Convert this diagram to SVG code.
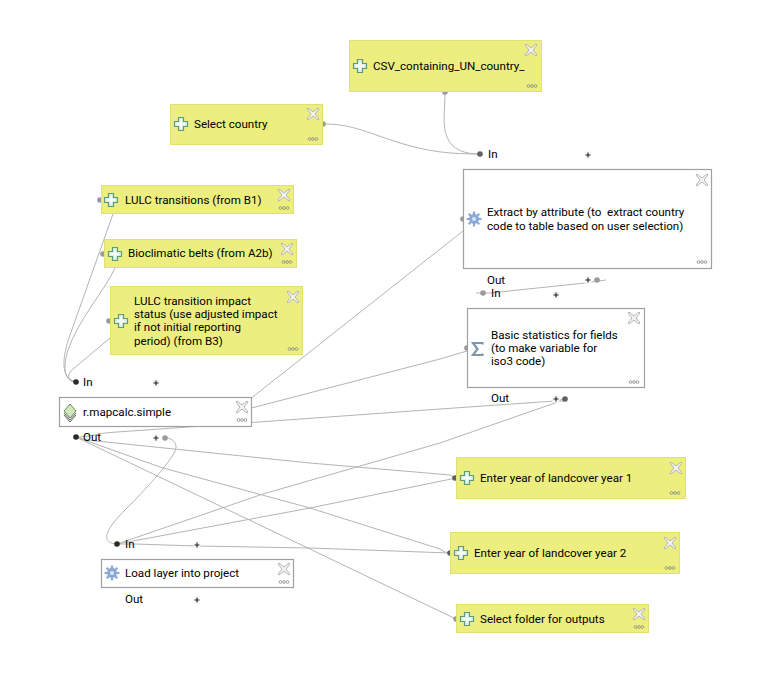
<svg xmlns="http://www.w3.org/2000/svg" width="761" height="698" viewBox="0 0 761 698">
<style>
text{font-family:Roboto,"Noto Sans","DejaVu Sans",sans-serif;font-size:11.6px;fill:#000;white-space:pre}
.in{fill:#ecef80;stroke:#e0e26e;stroke-width:1}
.alg{fill:#fff;stroke:#a0a0a0;stroke-width:1.2}
.c{fill:none;stroke:#b4b4b4;stroke-width:1}
.lg{fill:#9a9a9a}.md{fill:#606060}.dk{fill:#2a2a2a}
</style>
<defs>
<g id="x"><path d="M-5-6-0 -2 5-6 6-5 2 0 6 5 5 6 0 2-5 6-6 5-2 0-6-5Z" fill="#f4f4f0" stroke="#b4b4b4" stroke-width="1"/></g>
<g id="dots" fill="none" stroke="#8a8a8a" stroke-width=".8"><circle cx="-3.500" r="1.400"/><circle r="1.400"/><circle cx="3.500" r="1.400"/></g>
<g id="plus"><rect x="-3.500" y="-3.500" width="7" height="7" fill="#f6f6f6"/><path d="M-2.500 0H2.500M0-2.500V2.500" stroke="#222" stroke-width="1.100"/></g>
<g id="add"><path d="M-2.500-6.500H2.500V-2.500H6.500V2.500H2.500V6.500H-2.500V2.500H-6.500V-2.500H-2.500Z" fill="#dcefe4" stroke="#5e9b78" stroke-width="1.200"/><path d="M0-4V4M-4 0H4" stroke="#fff" stroke-width="1.400"/></g>
<g id="gear"><circle r="5" fill="#8aa9d6"/><path d="M0-7.500V7.500M-7.500 0H7.500M-5.300-5.300 5.300 5.300M-5.300 5.300 5.300-5.300" stroke="#8aa9d6" stroke-width="2.200"/><circle r="2" fill="#dbe6f5"/></g>
</defs>
<g id="connectors">
<path class="c" d="M323 124C350 124 360 130 400 143C430 152 450 154 480 154"/>
<path class="c" d="M445 92C445 110 442 125 447 137C452 150 465 154 480 154"/>
<path class="c" d="M101 200C115 200 117 205 113 214L70 335C62 358 60 378 76 382"/>
<path class="c" d="M104 254C125 254 120 258 115 268C105 290 78 320 68 350C62 370 65 381 76 382"/>
<path class="c" d="M110 321C125 321 120 330 110 338L72 370C66 376 68 382 76 382"/>
<path class="c" d="M240 407L463 231C478 219 470 219 463 219"/>
<path class="c" d="M240 411L440 359L467 351"/>
<path class="c" d="M76 437C90 437 100 433 110 432.500L252 422.500L440 409L555 401H565"/>
<path class="c" d="M76 437C85 440 95 441 103 441.700L310 463L450 475Q454 478 456 478"/>
<path class="c" d="M76 437L162 467.700L310 508L440 549Q445 553 450 553"/>
<path class="c" d="M76 437L456 619"/>
<path class="c" d="M117 544L263 494L440 443L555 403Q560 399 565 399"/>
<path class="c" d="M117 544L310 508L456 478"/>
<path class="c" d="M117 544H135L197 546L310 548L450 553"/>
<path class="c" d="M117 544C100 543 105 530 125 510C145 490 178 455 176 446C175 440 170 438 165 438"/>
<path class="c" d="M476 293H490L585 283L606 280"/>
</g>
<g id="anchors">
<circle class="lg" cx="323" cy="124" r="2.800"/><circle class="lg" cx="445" cy="92" r="2.800"/><circle class="md" cx="480" cy="154" r="2.800"/>
<circle class="lg" cx="100" cy="200" r="2.800"/><circle class="lg" cx="103" cy="254" r="2.800"/><circle class="lg" cx="109" cy="321" r="2.800"/>
<circle class="lg" cx="463" cy="219" r="2.800"/><circle class="lg" cx="483" cy="293" r="2.800"/><circle class="lg" cx="597" cy="280" r="2.800"/>
<circle class="lg" cx="467" cy="348" r="2.800"/><circle class="md" cx="565" cy="399" r="2.800"/>
<circle class="dk" cx="76" cy="382" r="2.800"/><circle class="dk" cx="76" cy="437" r="2.800"/><circle class="lg" cx="165" cy="438" r="2.800"/>
<circle class="dk" cx="117" cy="544" r="2.800"/><circle class="md" cx="455" cy="478" r="2.800"/><circle class="md" cx="450" cy="553" r="2.800"/><circle class="lg" cx="456" cy="619" r="2.800"/>
</g>
<g id="csv"><rect class="in" x="349.500" y="40.500" width="192" height="51"/><use href="#add" x="360" y="66"/><text x="373" y="70">CSV_containing_UN_country_</text><use href="#x" x="531" y="50"/><use href="#dots" x="532" y="86"/></g>
<g id="select-country"><rect class="in" x="170.500" y="104.500" width="152" height="40"/><use href="#add" x="181" y="124"/><text x="194" y="128">Select country</text><use href="#x" x="313" y="114"/><use href="#dots" x="313" y="139"/></g>
<g id="lulc-transitions"><rect class="in" x="101.500" y="185.500" width="192" height="28"/><use href="#add" x="111" y="200"/><text x="125" y="204">LULC transitions (from B1)</text><use href="#x" x="284" y="195"/><use href="#dots" x="284" y="208"/></g>
<g id="bioclimatic"><rect class="in" x="104.500" y="239.500" width="192" height="28"/><use href="#add" x="115" y="254"/><text x="128" y="257">Bioclimatic belts (from A2b)</text><use href="#x" x="287" y="249"/><use href="#dots" x="287" y="262"/></g>
<g id="impact"><rect class="in" x="110.500" y="286.500" width="192" height="68"/><use href="#add" x="121" y="321"/><text x="134" y="305">LULC transition impact</text><text x="134" y="318">status (use adjusted impact</text><text x="134" y="331">if not initial reporting</text><text x="134" y="345">period) (from B3)</text><use href="#x" x="293" y="297"/><use href="#dots" x="293" y="349"/></g>
<g id="extract"><rect class="alg" x="463.500" y="169.500" width="248" height="99"/><use href="#gear" x="474" y="219"/><text x="487" y="216">Extract by attribute (to  extract country</text><text x="487" y="230">code to table based on user selection)</text><use href="#x" x="702" y="180"/><use href="#dots" x="702" y="262"/></g>
<g id="basic"><rect class="alg" x="467.500" y="308.500" width="177" height="79"/><path d="M482.500 344.500V343H473L477.500 349 473 355H482.500V353.500" fill="none" stroke="#7d97ad" stroke-width="2.200"/><text x="491" y="339">Basic statistics for fields</text><text x="491" y="352">(to make variable for</text><text x="491" y="365">iso3 code)</text><use href="#x" x="634" y="318"/><use href="#dots" x="634" y="382"/></g>
<g id="mapcalc"><rect class="alg" x="59.500" y="397.500" width="192" height="29"/><path d="M70 404 76 411 70 418 64 411Z" fill="#cfe8c0" stroke="#6a8a50"/><path d="M64 413 70 420 76 413M64 415 70 422 76 415" fill="none" stroke="#666"/><text x="83" y="416">r.mapcalc.simple</text><use href="#x" x="242" y="407"/><use href="#dots" x="242" y="420"/></g>
<g id="year1"><rect class="in" x="456.500" y="457.500" width="229" height="41"/><use href="#add" x="467" y="478"/><text x="480" y="482">Enter year of landcover year 1</text><use href="#x" x="676" y="468"/><use href="#dots" x="675" y="493"/></g>
<g id="year2"><rect class="in" x="450.500" y="532.500" width="229" height="41"/><use href="#add" x="461" y="553"/><text x="474" y="557">Enter year of landcover year 2</text><use href="#x" x="670" y="543"/><use href="#dots" x="670" y="568"/></g>
<g id="folder"><rect class="in" x="456.500" y="604.500" width="192" height="28"/><use href="#add" x="467" y="619"/><text x="480" y="623">Select folder for outputs</text><use href="#x" x="639" y="614"/><use href="#dots" x="639" y="627"/></g>
<g id="load"><rect class="alg" x="101.500" y="559.500" width="192" height="28"/><use href="#gear" x="112" y="573"/><text x="125" y="577">Load layer into project</text><use href="#x" x="284" y="569"/><use href="#dots" x="284" y="582"/></g>
<g id="ports">
<text x="488" y="158">In</text><use href="#plus" x="588" y="155"/>
<text x="487" y="284">Out</text><use href="#plus" x="588" y="280"/>
<text x="491" y="297">In</text><use href="#plus" x="556" y="295"/>
<text x="491" y="402">Out</text><use href="#plus" x="556" y="399"/>
<text x="83" y="386">In</text><use href="#plus" x="156" y="383"/>
<text x="83" y="441">Out</text><use href="#plus" x="156" y="438"/>
<text x="125" y="548">In</text><use href="#plus" x="197" y="545"/>
<text x="125" y="603">Out</text><use href="#plus" x="197" y="600"/>
</g>
</svg>
